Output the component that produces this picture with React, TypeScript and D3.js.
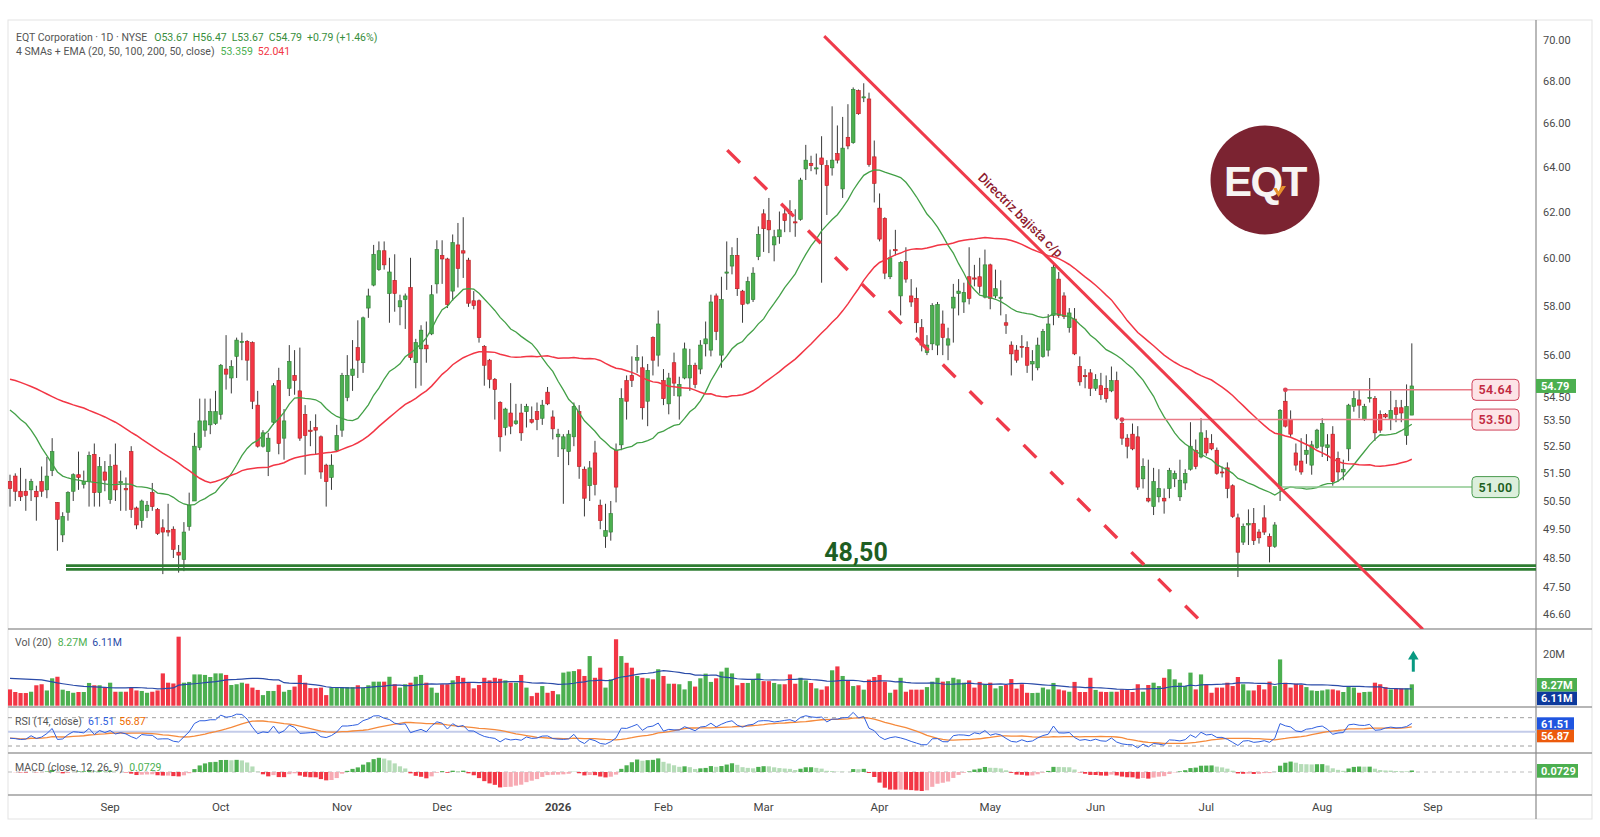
import React, { useRef, useEffect } from 'react';
import * as d3 from 'd3';

const W = 1600;
const H = 837;
const FONT = 'Roboto, "Noto Sans", sans-serif';

// sessions: first one on the chart and the NYSE holidays in between
const FIRST_SESSION = '2025-08-05';
const HOLIDAYS = ['2025-09-01', '2025-11-27', '2025-12-25', '2026-01-01', '2026-01-19',
    '2026-02-16', '2026-04-03', '2026-05-25', '2026-06-19', '2026-07-03'];
const MONTH_NAMES = ['Jan', 'Feb', 'Mar', 'Apr', 'May', 'Jun', 'Jul', 'Aug', 'Sep', 'Oct', 'Nov', 'Dec'];

// daily OHLC
const opens = [
    51.2, 51.4, 50.85, 50.85, 50.9, 50.85, 51.2, 50.9, 51.6, 50.45,
    49.3, 50.1, 50.85, 51.45, 51.1, 51.2, 52.2, 50.8, 51.55, 50.55,
    51.8, 51.15, 50.95, 52.3, 50.25, 49.8, 50.15, 50.8, 50.2, 49.55,
    49.45, 49.5, 48.7, 48.45, 49.6, 50.5, 52.45, 53.1, 53.3, 53.35,
    53.7, 55.45, 55.1, 55.95, 56.5, 56.55, 56.5, 54.05, 52.5, 52.3,
    53.4, 55.0, 52.8, 54.7, 55.2, 54.6, 53.7, 53.1, 53.2, 52.85,
    51.8, 51.35, 52.35, 53.1, 54.35, 55.2, 56.3, 55.7, 57.9, 58.85,
    59.5, 60.3, 58.5, 59.05, 57.95, 58.25, 58.75, 55.7, 56.25, 56.4,
    56.85, 58.9, 60.1, 59.95, 58.6, 60.55, 60.3, 59.9, 58.2, 58.2,
    56.35, 55.8, 55.05, 54.15, 53.2, 53.75, 53.35, 53.75, 53.8, 53.5,
    53.8, 53.55, 54.55, 53.6, 52.85, 52.4, 52.3, 52.85, 53.8, 51.65,
    51.05, 52.25, 50.35, 49.25, 49.4, 52.35, 52.55, 55.0, 55.2, 55.8,
    55.5, 54.2, 56.7, 56.0, 55.0, 54.1, 55.7, 54.4, 55.1, 55.1,
    55.6, 55.45, 56.45, 56.2, 58.4, 56.0, 59.35, 59.65, 60.1, 58.6,
    58.1, 58.25, 60.05, 61.9, 61.6, 60.55, 60.9, 61.9, 62.0, 61.55,
    61.65, 63.9, 64.15, 63.9, 64.4, 64.05, 63.95, 64.6, 63.0, 65.35,
    65.1, 67.55, 67.2, 67.15, 64.45, 62.15, 61.7, 59.2, 60.35, 58.4,
    59.85, 58.4, 58.3, 57.1, 56.1, 56.45, 56.4, 57.25, 56.4, 57.9,
    58.5, 58.15, 59.2, 59.15, 59.2, 58.35, 59.7, 58.4, 58.3, 57.3,
    56.4, 56.2, 56.35, 56.3, 55.65, 55.5, 55.95, 56.2, 57.6, 59.1,
    58.4, 57.1, 57.45, 55.55, 55.2, 55.3, 54.7, 54.8, 54.7, 54.6,
    55.0, 53.35, 52.8, 52.95, 52.85, 51.3, 50.6, 50.3, 50.65, 50.6,
    50.95, 51.3, 50.65, 51.15, 51.65, 52.35, 52.1, 52.8, 52.6, 52.35,
    51.55, 51.7, 51.05, 49.9, 49.05, 49.65, 49.7, 49.4, 49.9, 49.25,
    48.9, 50.95, 54.2, 53.5, 52.25, 51.95, 52.2, 51.8, 52.45, 52.5,
    52.45, 52.95, 52.05, 51.55, 52.4, 54.0, 54.25, 53.5, 54.3, 54.3,
    53.7, 53.7, 53.5, 53.95, 53.95, 52.9, 53.67,
];
const highs = [
    51.45, 51.5, 51.7, 51.3, 51.3, 51.05, 51.75, 52.1, 52.8, 50.45,
    50.1, 50.85, 51.5, 52.3, 51.6, 52.3, 52.6, 52.1, 51.95, 52.2,
    52.6, 51.6, 51.35, 52.5, 50.3, 50.55, 50.5, 51.15, 50.25, 49.85,
    50.4, 49.6, 48.95, 49.75, 50.8, 53.0, 54.3, 54.3, 54.3, 54.6,
    55.65, 56.8, 55.8, 56.7, 56.9, 56.6, 56.55, 54.6, 53.1, 53.0,
    54.9, 55.5, 53.9, 56.4, 56.2, 56.3, 54.05, 53.45, 53.7, 52.9,
    51.85, 52.2, 53.3, 55.3, 56.0, 56.6, 57.4, 57.55, 58.7, 60.55,
    60.7, 60.7, 60.0, 60.15, 58.45, 58.5, 60.0, 56.65, 57.2, 57.35,
    58.85, 60.75, 60.75, 60.0, 61.0, 61.5, 61.75, 60.0, 58.6, 58.25,
    56.4, 55.85, 55.1, 54.2, 53.95, 54.9, 54.1, 54.1, 54.1, 54.0,
    54.15, 54.25, 54.75, 53.85, 53.15, 52.95, 53.1, 54.15, 54.05, 51.75,
    51.95, 52.7, 50.55, 50.4, 50.5, 52.6, 54.7, 55.2, 55.95, 56.4,
    55.95, 55.65, 56.75, 57.8, 55.45, 55.3, 56.1, 55.15, 56.5, 56.25,
    55.7, 56.6, 57.35, 58.45, 58.5, 59.2, 60.7, 60.45, 60.85, 58.65,
    59.2, 59.6, 61.35, 62.1, 62.6, 61.2, 62.0, 62.2, 62.5, 62.1,
    63.5, 65.0, 64.5, 64.6, 65.4, 64.3, 66.8, 65.9, 66.3, 66.9,
    67.7, 67.6, 67.9, 67.45, 65.2, 62.8, 61.75, 60.35, 61.2, 59.85,
    60.45, 59.1, 58.75, 57.45, 56.8, 58.1, 58.15, 57.8, 57.1, 58.9,
    59.1, 58.95, 60.45, 59.7, 60.0, 60.35, 59.75, 59.5, 59.05, 57.65,
    56.55, 56.4, 56.8, 56.55, 56.2, 56.7, 57.05, 57.65, 59.7, 59.4,
    58.55, 57.9, 57.9, 55.95, 55.45, 55.45, 55.25, 55.3, 55.2, 55.55,
    55.35, 53.55, 52.95, 53.35, 53.25, 52.05, 52.0, 51.7, 51.65, 50.95,
    51.7, 51.6, 52.0, 51.65, 53.4, 52.75, 53.55, 53.1, 52.95, 52.45,
    51.75, 51.9, 51.1, 50.05, 49.7, 50.2, 50.25, 49.5, 50.35, 49.35,
    49.75, 53.9, 54.65, 53.85, 52.6, 52.8, 52.95, 52.7, 53.15, 53.55,
    52.95, 53.25, 52.3, 52.0, 54.1, 54.6, 54.65, 54.1, 55.1, 54.4,
    53.85, 53.75, 54.6, 54.25, 54.25, 54.85, 56.47,
];
const lows = [
    50.3, 50.5, 50.5, 50.15, 50.5, 49.8, 50.65, 50.6, 51.4, 48.75,
    49.05, 49.8, 50.5, 50.9, 50.95, 50.3, 50.3, 50.3, 50.85, 50.4,
    50.5, 50.15, 50.15, 49.9, 49.5, 49.55, 49.9, 50.15, 49.3, 47.95,
    49.25, 48.5, 48.0, 48.05, 49.45, 50.5, 52.35, 52.85, 52.95, 53.3,
    53.5, 54.65, 54.5, 55.1, 55.8, 55.0, 53.9, 52.45, 52.45, 51.4,
    53.3, 52.2, 52.0, 54.4, 54.45, 52.7, 51.45, 52.5, 52.2, 51.3,
    50.3, 50.9, 52.3, 52.85, 54.2, 54.6, 55.1, 55.3, 57.5, 58.8,
    59.45, 59.5, 57.3, 57.75, 57.2, 57.05, 55.8, 54.7, 54.8, 55.7,
    56.8, 58.5, 58.9, 57.9, 58.2, 58.75, 59.15, 57.95, 57.85, 56.5,
    54.8, 54.7, 53.5, 52.3, 52.9, 52.95, 53.3, 52.7, 53.2, 53.35,
    53.1, 53.3, 54.05, 52.75, 52.1, 50.4, 51.8, 52.5, 51.3, 49.95,
    50.5, 50.7, 49.5, 48.85, 49.1, 50.45, 52.35, 53.5, 54.75, 55.3,
    53.5, 53.25, 55.2, 55.55, 54.05, 53.7, 54.4, 53.5, 55.05, 54.6,
    54.7, 55.25, 55.95, 55.95, 56.6, 55.5, 58.65, 59.3, 58.4, 57.3,
    58.05, 58.15, 59.9, 60.25, 60.2, 59.85, 60.6, 61.1, 61.1, 60.9,
    61.6, 63.4, 63.8, 63.65, 58.95, 61.85, 63.6, 64.15, 62.6, 64.8,
    65.05, 66.4, 67.0, 64.0, 62.4, 60.7, 59.1, 59.1, 60.1, 57.6,
    58.95, 57.95, 56.9, 56.15, 56.0, 56.2, 56.0, 56.0, 55.8, 56.5,
    57.6, 57.7, 58.05, 58.8, 58.5, 58.3, 57.85, 58.3, 57.6, 56.85,
    55.2, 55.7, 55.9, 55.3, 55.0, 55.4, 55.9, 55.95, 57.2, 57.5,
    57.45, 56.9, 56.0, 54.8, 54.7, 54.4, 54.6, 54.25, 54.15, 54.55,
    53.48, 52.55, 52.05, 52.35, 50.9, 50.95, 50.45, 50.0, 50.45, 50.05,
    50.6, 51.0, 50.5, 50.9, 51.6, 51.65, 52.05, 52.15, 52.35, 51.45,
    51.35, 50.6, 49.9, 47.85, 48.95, 48.95, 48.95, 49.0, 49.3, 48.35,
    48.85, 50.5, 53.2, 52.85, 51.6, 51.45, 51.85, 51.45, 52.4, 52.1,
    51.95, 51.05, 51.2, 51.25, 51.95, 53.8, 53.55, 53.45, 54.15, 52.7,
    53.0, 53.55, 53.1, 53.4, 53.4, 52.55, 53.67,
];
const closes = [
    50.95, 50.85, 50.65, 50.7, 51.2, 50.65, 50.85, 51.4, 52.3, 49.85,
    49.95, 50.8, 51.45, 51.35, 51.2, 52.15, 50.8, 51.75, 51.25, 51.75,
    50.9, 51.2, 50.9, 50.2, 49.65, 50.5, 50.35, 50.3, 49.35, 49.4,
    49.4, 48.8, 48.6, 49.4, 50.35, 52.5, 53.45, 53.45, 53.8, 53.8,
    55.6, 55.25, 55.55, 56.6, 56.55, 55.8, 54.2, 52.5, 53.0, 52.8,
    54.8, 52.6, 53.45, 55.75, 55.0, 52.8, 52.9, 53.05, 53.1, 51.55,
    51.2, 51.8, 52.9, 55.2, 55.2, 55.45, 55.8, 57.5, 58.4, 60.15,
    60.3, 59.7, 59.4, 58.5, 58.2, 58.4, 55.9, 56.5, 57.0, 56.25,
    58.45, 60.35, 59.95, 58.05, 60.65, 59.55, 60.2, 58.1, 58.0, 56.7,
    55.6, 55.05, 54.65, 52.85, 53.9, 53.25, 53.45, 53.0, 54.0, 53.4,
    53.5, 54.05, 54.1, 53.15, 52.95, 52.85, 52.95, 54.0, 51.75, 50.6,
    51.7, 51.1, 49.8, 49.45, 50.05, 51.0, 54.3, 54.2, 55.0, 55.9,
    53.95, 55.4, 55.8, 57.25, 54.3, 55.1, 54.9, 54.85, 56.25, 55.6,
    54.85, 56.4, 56.65, 58.15, 56.95, 58.25, 59.4, 60.1, 58.7, 58.05,
    59.0, 59.35, 61.0, 61.25, 61.2, 60.9, 61.2, 61.6, 61.9, 61.5,
    63.4, 64.3, 64.05, 63.95, 64.1, 63.15, 64.3, 64.3, 64.85, 64.95,
    67.6, 66.45, 67.25, 64.1, 63.25, 60.8, 59.35, 60.0, 60.3, 59.8,
    59.1, 58.15, 57.3, 56.4, 56.4, 58.0, 58.05, 56.7, 56.65, 58.35,
    58.6, 58.55, 58.3, 59.1, 58.8, 59.7, 58.3, 58.7, 58.35, 57.2,
    56.05, 55.8, 56.3, 55.6, 55.75, 56.4, 56.95, 57.25, 59.6, 57.6,
    57.55, 57.7, 56.05, 54.95, 55.15, 54.7, 55.05, 54.45, 54.3, 55.0,
    53.55, 52.8, 52.5, 52.4, 51.0, 51.75, 50.5, 51.2, 50.95, 50.5,
    51.6, 51.5, 51.25, 51.5, 52.5, 51.75, 53.0, 52.25, 52.4, 51.5,
    51.52, 50.95, 49.95, 48.7, 49.6, 49.7, 49.1, 49.2, 49.4, 48.9,
    49.65, 53.85, 53.25, 52.95, 51.8, 51.55, 52.35, 52.55, 53.1, 53.35,
    52.55, 51.2, 51.55, 51.65, 54.05, 54.3, 54.05, 54.0, 54.35, 53.0,
    53.1, 53.6, 53.85, 53.7, 53.75, 54.0, 54.79,
];
// volume in millions
const volumes = [
    6.3, 5.3, 4.9, 4.9, 5.4, 7.9, 8.3, 5.9, 10.6, 11.2,
    6.2, 5.7, 5.0, 5.3, 5.3, 8.8, 7.9, 7.9, 7.0, 8.9,
    5.4, 5.4, 5.4, 7.0, 5.9, 5.7, 5.0, 5.4, 5.9, 12.5,
    8.9, 8.6, 26.7, 8.9, 9.2, 12.1, 12.1, 11.9, 11.1, 12.5,
    12.5, 11.9, 8.0, 8.3, 8.9, 8.5, 7.0, 6.1, 4.1, 5.7,
    5.7, 8.1, 5.4, 6.1, 7.4, 11.9, 8.9, 6.8, 6.8, 7.0,
    4.1, 7.0, 7.2, 7.2, 7.2, 7.2, 7.9, 7.0, 7.9, 9.3,
    9.3, 9.3, 11.2, 8.3, 7.0, 8.3, 8.9, 11.2, 11.9, 8.9,
    7.0, 5.0, 8.3, 8.3, 9.8, 11.5, 10.8, 8.9, 6.7, 8.0,
    10.8, 9.8, 10.8, 10.4, 9.8, 8.9, 8.9, 11.9, 7.0, 3.7,
    5.0, 7.6, 5.0, 5.7, 4.4, 12.8, 13.2, 13.4, 14.1, 11.5,
    19.2, 10.8, 14.7, 7.0, 10.2, 25.7, 19.2, 16.6, 14.7, 11.5,
    10.8, 10.6, 10.2, 14.1, 11.5, 8.5, 8.5, 8.3, 6.3, 9.5,
    7.4, 10.6, 12.4, 9.2, 10.6, 13.2, 14.7, 12.5, 7.9, 8.8,
    8.8, 10.1, 12.5, 9.5, 9.5, 8.8, 8.3, 8.3, 12.1, 8.5,
    10.8, 9.8, 8.8, 6.7, 6.2, 7.5, 13.7, 15.2, 11.5, 9.8,
    7.6, 7.9, 6.2, 10.1, 11.1, 11.9, 9.3, 5.0, 6.2, 10.8,
    5.4, 6.2, 6.2, 6.2, 7.2, 9.3, 10.8, 9.3, 9.5, 10.8,
    10.2, 8.9, 9.8, 7.0, 9.2, 8.3, 8.9, 6.7, 7.6, 8.0,
    10.3, 6.6, 8.3, 5.0, 4.9, 5.0, 7.0, 6.3, 8.8, 6.3,
    5.9, 5.4, 9.2, 5.3, 5.3, 10.8, 6.1, 5.4, 5.3, 5.4,
    5.4, 6.3, 6.3, 5.3, 8.3, 5.4, 8.0, 8.9, 7.6, 10.8,
    14.1, 10.2, 8.9, 7.6, 12.8, 6.3, 12.1, 8.3, 5.0, 7.0,
    7.0, 8.9, 7.6, 11.1, 8.3, 5.9, 5.9, 8.0, 6.3, 9.3,
    7.6, 17.9, 8.9, 7.0, 8.5, 8.0, 7.2, 5.9, 5.7, 5.9,
    6.3, 6.3, 5.9, 5.3, 7.6, 7.0, 5.0, 5.3, 5.4, 8.9,
    8.3, 7.2, 6.3, 6.7, 6.7, 6.7, 8.27,
];

// indicator values already on screen before enough history exists
const SMA20_HEAD = [53.86, 53.7, 53.5, 53.35, 53.1, 52.8, 52.45, 52.15, 51.85, 51.55,
    51.4, 51.33, 51.28, 51.25, 51.22, 51.2, 51.17, 51.15, 51.12];
const SMA50_HEAD = [55.05, 55.0, 54.93, 54.85, 54.77, 54.68, 54.58, 54.48, 54.38, 54.28,
    54.2, 54.13, 54.06, 54.0, 53.94, 53.85, 53.77, 53.69, 53.6, 53.5,
    53.4, 53.28, 53.15, 53.02, 52.9, 52.76, 52.63, 52.5, 52.37, 52.24,
    52.12, 52.0, 51.87, 51.73, 51.6, 51.45, 51.32, 51.22, 51.16, 51.2,
    51.27, 51.35, 51.43, 51.5, 51.6, 51.65, 51.68, 51.7, 51.71];
const VOL_MA_HEAD = [10.6, 10.5, 10.4, 10.3, 10.2, 10.1, 10.0, 9.6, 9.2, 8.8,
    8.5, 8.2, 7.9, 7.7, 7.5, 7.4, 7.3, 7.2, 7.1];
const RSI_START = 41;

const PRICE_TICKS = [70, 68, 66, 64, 62, 60, 58, 56, 54.5, 53.5, 52.5, 51.5, 50.5, 49.5, 48.5, 47.5, 46.6];

// drawings on the chart (session index, price)
const LEVELS = [
    { price: 54.64, from: 242, tone: 'red' },
    { price: 53.5, from: 211, tone: 'red' },
    { price: 51.0, from: 241, tone: 'green' },
];
const SUPPORT_LINES = [48.24, 48.11];
const SUPPORT_LABEL = '48,50';
const TREND_SOLID = [{ i: 154.5, p: 70.21 }, { i: 268.1, p: 46.11 }];
const TREND_DASHED = [{ i: 136.1, p: 64.76 }, { i: 226.8, p: 46.23 }];

const GREEN = '#4caf50';
const RED = '#f23645';

function tradingDays(first: string, count: number): Date[] {
    const out: Date[] = [];
    const d = new Date(first + 'T12:00:00Z');
    while (out.length < count) {
        const dow = d.getUTCDay();
        const iso = d.toISOString().slice(0, 10);
        if (dow !== 0 && dow !== 6 && !HOLIDAYS.includes(iso)) out.push(new Date(d.getTime()));
        d.setUTCDate(d.getUTCDate() + 1);
    }
    return out;
}

const App: React.FC = () => {
    const svgRef = useRef<SVGSVGElement | null>(null);

    useEffect(() => {
        if (!svgRef.current) return;
        const svg = d3.select(svgRef.current);
        svg.selectAll('*').remove();

        const n = closes.length;
        const idx = d3.range(n);
        const dates = tradingDays(FIRST_SESSION, n + 4);

        const P = { left: 8, right: 1536, axisRight: 1592, top: 20, price: 629, vol: 707, rsi: 753, macd: 795, bottom: 819 };

        const x = d3.scaleLinear().domain([0, dates.length - 1]).range([10, 10 + (dates.length - 1) * 5.27]);
        const y = d3.scaleLog().domain([46.6, 70]).range([614.4, 40.3]);
        const vy = d3.scaleLinear().domain([0, 20]).range([705.7, 654]);
        const ry = d3.scaleLinear().domain([30, 70]).range([746, 717.7]);

        // ---------- indicators ----------
        const sma = (vals: number[], len: number, headVals: number[]) =>
            idx.map(i => i < len - 1 ? headVals[i] : d3.mean(vals.slice(i - len + 1, i + 1))!);
        const sma20 = sma(closes, 20, SMA20_HEAD);
        const sma50 = sma(closes, 50, SMA50_HEAD);
        const volMa = sma(volumes, 20, VOL_MA_HEAD);

        const firstMoves = d3.mean(d3.range(1, 15).map(i => Math.abs(closes[i] - closes[i - 1])))!;
        let ag = firstMoves * RSI_START / 100;
        let al = firstMoves * (100 - RSI_START) / 100;
        const rsi: number[] = [RSI_START];
        for (let i = 1; i < n; i++) {
            const ch = closes[i] - closes[i - 1];
            ag = (ag * 13 + Math.max(ch, 0)) / 14;
            al = (al * 13 + Math.max(-ch, 0)) / 14;
            rsi.push(100 - 100 / (1 + ag / al));
        }
        const rsiMa = idx.map(i => d3.mean(rsi.slice(Math.max(0, i - 13), i + 1))!);

        let e12 = closes[0], e26 = closes[0], sig = 0;
        const hist: number[] = [];
        closes.forEach(c => {
            e12 += (2 / 13) * (c - e12);
            e26 += (2 / 27) * (c - e26);
            const m = e12 - e26;
            sig += (2 / 10) * (m - sig);
            hist.push(m - sig);
        });
        const my = d3.scaleLinear().domain([d3.min(hist)!, 0]).range([791, 772]);

        // ---------- frame ----------
        svg.append('rect').attr('width', W).attr('height', H).attr('fill', '#fff');
        const defs = svg.append('defs');
        const clip = (id: string, top: number, bottom: number) =>
            defs.append('clipPath').attr('id', id).append('rect')
                .attr('x', P.left).attr('y', top).attr('width', P.right - P.left).attr('height', bottom - top);
        clip('c-price', P.top, P.price);
        clip('c-vol', P.price, P.vol);
        clip('c-rsi', P.vol, P.rsi);
        clip('c-macd', P.rsi, P.macd);

        svg.append('rect').attr('x', P.left).attr('y', P.top).attr('width', P.axisRight - P.left)
            .attr('height', P.bottom - P.top).attr('fill', 'none').attr('stroke', '#e3e3e3');
        [P.price, P.vol, P.rsi, P.macd].forEach(yy => {
            svg.append('line').attr('x1', P.left).attr('x2', P.axisRight).attr('y1', yy).attr('y2', yy)
                .attr('stroke', '#9e9e9e').attr('stroke-width', 1.6);
        });
        svg.append('line').attr('x1', P.right).attr('x2', P.right).attr('y1', P.top).attr('y2', P.bottom)
            .attr('stroke', '#8a8a8a').attr('stroke-width', 1.2);

        // ---------- price pane ----------
        const gp = svg.append('g').attr('clip-path', 'url(#c-price)');
        const bw = 3.6;
        gp.selectAll('line.wick').data(idx).join('line')
            .attr('class', 'wick')
            .attr('x1', i => x(i)).attr('x2', i => x(i))
            .attr('y1', i => y(highs[i])).attr('y2', i => y(lows[i]))
            .attr('stroke', '#3a3a3a').attr('stroke-width', 1);
        gp.selectAll('rect.body').data(idx).join('rect')
            .attr('class', 'body')
            .attr('x', i => x(i) - bw / 2).attr('width', bw)
            .attr('y', i => y(Math.max(opens[i], closes[i])))
            .attr('height', i => Math.max(1, Math.abs(y(opens[i]) - y(closes[i]))))
            .attr('fill', i => closes[i] >= opens[i] ? GREEN : RED)
            .attr('stroke', i => closes[i] >= opens[i] ? '#2e7d32' : '#b71c1c')
            .attr('stroke-width', 0.6);

        const maLine = (vals: number[]) => d3.line<number>().x(i => x(i)).y(i => y(vals[i]))(idx);
        gp.append('path').attr('d', maLine(sma20)).attr('fill', 'none').attr('stroke', '#43a047').attr('stroke-width', 1.3);
        gp.append('path').attr('d', maLine(sma50)).attr('fill', 'none').attr('stroke', RED).attr('stroke-width', 1.5);

        // support 48,50
        SUPPORT_LINES.forEach(p => {
            gp.append('line').attr('x1', 66).attr('x2', P.right).attr('y1', y(p)).attr('y2', y(p))
                .attr('stroke', '#2e7d32').attr('stroke-width', 2.6);
        });
        gp.append('text').attr('x', 856).attr('y', y(SUPPORT_LINES[0]) - 5).attr('text-anchor', 'middle')
            .attr('font-family', FONT).attr('font-size', 25).attr('font-weight', 700).attr('fill', '#1e5e22')
            .text(SUPPORT_LABEL);

        // level lines with boxes
        LEVELS.forEach(l => {
            const red = l.tone === 'red';
            gp.append('line').attr('x1', x(l.from)).attr('x2', 1472).attr('y1', y(l.price)).attr('y2', y(l.price))
                .attr('stroke', red ? '#ea7a86' : '#8cc98f').attr('stroke-width', 1.5);
            if (red) gp.append('circle').attr('cx', x(l.from)).attr('cy', y(l.price)).attr('r', 2.4).attr('fill', '#e04255');
            gp.append('rect').attr('x', 1472).attr('y', y(l.price) - 10.5).attr('width', 47).attr('height', 21).attr('rx', 4)
                .attr('fill', red ? '#fde4e7' : '#dcefdc').attr('stroke', red ? '#d0435a' : '#4a9a4f').attr('stroke-width', 1);
            gp.append('text').attr('x', 1495.5).attr('y', y(l.price) + 4.5).attr('text-anchor', 'middle')
                .attr('font-family', FONT).attr('font-size', 12.5).attr('font-weight', 600).attr('letter-spacing', 0.4)
                .attr('fill', red ? '#c2293f' : '#1b5e20').text(l.price.toFixed(2));
        });

        // trend lines
        const pt = (a: { i: number; p: number }) => [x(a.i), y(a.p)];
        const [s0, s1] = TREND_SOLID.map(pt);
        gp.append('line').attr('x1', s0[0]).attr('y1', s0[1]).attr('x2', s1[0]).attr('y2', s1[1])
            .attr('stroke', '#ef3b4b').attr('stroke-width', 3);
        const [d0, d1] = TREND_DASHED.map(pt);
        gp.append('line').attr('x1', d0[0]).attr('y1', d0[1]).attr('x2', d1[0]).attr('y2', d1[1])
            .attr('stroke', '#ef3b4b').attr('stroke-width', 3.4).attr('stroke-dasharray', '18 20');
        const ang = Math.atan2(s1[1] - s0[1], s1[0] - s0[0]);
        const t = 0.315;
        const tx = s0[0] + (s1[0] - s0[0]) * t + Math.sin(ang) * 10;
        const ty = s0[1] + (s1[1] - s0[1]) * t - Math.cos(ang) * 10;
        gp.append('text').attr('transform', `translate(${tx},${ty}) rotate(${ang * 180 / Math.PI})`)
            .attr('text-anchor', 'middle').attr('dominant-baseline', 'middle')
            .attr('font-family', FONT).attr('font-size', 13).attr('font-weight', 500)
            .attr('fill', '#8e1b2e').text('Directriz bajista c/p');

        // EQT logo
        const logo = svg.append('g').attr('transform', 'translate(1265,180)');
        logo.append('circle').attr('r', 54.5).attr('fill', '#7b2331');
        logo.append('text').attr('y', 16).attr('text-anchor', 'middle').attr('font-family', '"Liberation Sans", Arial, sans-serif')
            .attr('font-size', 42).attr('font-weight', 700).attr('letter-spacing', -1.5).attr('fill', '#f7f4f2').text('EQT');
        logo.append('path').attr('d', 'M8,8 L13.5,17 L21,6 L17,6 L13.5,11.5 L11.5,8 Z').attr('fill', '#e8922a');

        // price axis
        const ga = svg.append('g').attr('font-family', FONT).attr('font-size', 11);
        const last = closes[n - 1];
        PRICE_TICKS.forEach(v => {
            // the tick under the last-price tag peeks out just below it
            const yy = Math.abs(y(v) - y(last)) < 12 ? y(last) + 15 : y(v) + 4;
            ga.append('text').attr('x', 1543).attr('y', yy).attr('fill', '#4b4b4b').text(v.toFixed(2));
        });
        ga.append('rect').attr('x', P.right).attr('y', y(last) - 7).attr('width', 40).attr('height', 14).attr('fill', GREEN);
        ga.append('text').attr('x', P.right + 5).attr('y', y(last) + 4).attr('fill', '#fff').attr('font-weight', 700).text(last.toFixed(2));

        // legend
        const chg = last - closes[n - 2];
        const head = svg.append('text').attr('x', 16).attr('y', 41).attr('font-family', FONT).attr('font-size', 10.5);
        head.append('tspan').attr('fill', '#555').text('EQT Corporation · 1D · NYSE');
        const ohlcGreen = '#388e3c';
        [`O${opens[n - 1].toFixed(2)}`, `H${highs[n - 1].toFixed(2)}`, `L${lows[n - 1].toFixed(2)}`, `C${last.toFixed(2)}`,
            `+${chg.toFixed(2)} (+${(chg / closes[n - 2] * 100).toFixed(2)}%)`].forEach((s, k) => {
            head.append('tspan').attr('dx', k === 0 ? 7 : 5).attr('fill', ohlcGreen).text(s);
        });
        const leg2 = svg.append('text').attr('x', 16).attr('y', 54.5).attr('font-family', FONT).attr('font-size', 10.5);
        leg2.append('tspan').attr('fill', '#555').text('4 SMAs + EMA (20, 50, 100, 200, 50, close)');
        leg2.append('tspan').attr('dx', 6).attr('fill', GREEN).text('53.359');
        leg2.append('tspan').attr('dx', 5).attr('fill', RED).text('52.041');

        // ---------- volume ----------
        const gv = svg.append('g').attr('clip-path', 'url(#c-vol)');
        gv.selectAll('rect').data(idx).join('rect')
            .attr('x', i => x(i) - 2.1).attr('width', 4.2)
            .attr('y', i => vy(volumes[i])).attr('height', i => vy(0) - vy(volumes[i]))
            .attr('fill', i => closes[i] >= opens[i] ? GREEN : RED);
        gv.append('path').attr('d', d3.line<number>().x(i => x(i)).y(i => vy(volMa[i]))(idx))
            .attr('fill', 'none').attr('stroke', '#2a4ba8').attr('stroke-width', 1.2);
        // arrow
        gv.append('line').attr('x1', 1413.3).attr('x2', 1413.3).attr('y1', 671.7).attr('y2', 658)
            .attr('stroke', '#089981').attr('stroke-width', 3);
        gv.append('path').attr('d', 'M1408,659.5 L1418.6,659.5 L1413.3,650.7 Z').attr('fill', '#089981');

        const vt = svg.append('text').attr('x', 15).attr('y', 645.5).attr('font-family', FONT).attr('font-size', 10.5);
        vt.append('tspan').attr('fill', '#555').text('Vol (20)');
        vt.append('tspan').attr('dx', 6).attr('fill', GREEN).text('8.27M');
        vt.append('tspan').attr('dx', 5).attr('fill', '#2a4ba8').text('6.11M');
        ga.append('text').attr('x', 1543).attr('y', vy(20) + 4).attr('fill', '#4b4b4b').text('20M');

        const axisBox = (yTop: number, h: number, w: number, fill: string, label: string) => {
            ga.append('rect').attr('x', P.right + 1).attr('y', yTop).attr('width', w).attr('height', h).attr('fill', fill);
            ga.append('text').attr('x', P.right + 5).attr('y', yTop + h / 2 + 4).attr('fill', '#fff')
                .attr('font-weight', 700).text(label);
        };
        axisBox(678, 13.7, 40, GREEN, '8.27M');
        axisBox(691.7, 13.5, 40, '#0d3a9c', '6.11M');

        // ---------- RSI ----------
        const gr = svg.append('g').attr('clip-path', 'url(#c-rsi)');
        [70, 30].forEach(v => gr.append('line').attr('x1', P.left).attr('x2', P.right).attr('y1', ry(v)).attr('y2', ry(v))
            .attr('stroke', '#9e9e9e').attr('stroke-dasharray', '4 4'));
        gr.append('line').attr('x1', P.left).attr('x2', P.right).attr('y1', ry(50)).attr('y2', ry(50))
            .attr('stroke', '#c3cbe9').attr('stroke-width', 2);
        gr.append('path').attr('d', d3.line<number>().x(i => x(i)).y(i => ry(rsiMa[i]))(idx))
            .attr('fill', 'none').attr('stroke', '#f58a3c').attr('stroke-width', 1.3);
        gr.append('path').attr('d', d3.line<number>().x(i => x(i)).y(i => ry(rsi[i]))(idx))
            .attr('fill', 'none').attr('stroke', '#2f5fe0').attr('stroke-width', 1);
        const rt = svg.append('text').attr('x', 15).attr('y', 725).attr('font-family', FONT).attr('font-size', 10.5);
        rt.append('tspan').attr('fill', '#555').text('RSI (14, close)');
        rt.append('tspan').attr('dx', 6).attr('fill', '#2f5fe0').text('61.51');
        rt.append('tspan').attr('dx', 5).attr('fill', '#ef6c00').text('56.87');
        axisBox(717.3, 12.5, 37, '#1f55e0', '61.51');
        axisBox(729.8, 12.5, 37, '#ec5a0c', '56.87');

        // ---------- MACD ----------
        const gm = svg.append('g').attr('clip-path', 'url(#c-macd)');
        gm.append('line').attr('x1', P.left).attr('x2', P.right).attr('y1', my(0)).attr('y2', my(0))
            .attr('stroke', '#bdbdbd').attr('stroke-dasharray', '4 4');
        gm.selectAll('rect').data(idx).join('rect')
            .attr('x', i => x(i) - 2.1).attr('width', 4.2)
            .attr('y', i => Math.min(my(0), my(hist[i])))
            .attr('height', i => Math.abs(my(hist[i]) - my(0)))
            .attr('fill', i => {
                const h = hist[i], prev = i > 0 ? hist[i - 1] : h;
                if (h >= 0) return h >= prev ? GREEN : '#b5dcb7';
                return h < prev ? RED : '#f7aab3';
            });
        const mt = svg.append('text').attr('x', 15).attr('y', 770.5).attr('font-family', FONT).attr('font-size', 10.5);
        mt.append('tspan').attr('fill', '#555').text('MACD (close, 12, 26, 9)');
        mt.append('tspan').attr('dx', 6).attr('fill', GREEN).text('0.0729');
        axisBox(764, 13.7, 41, GREEN, '0.0729');

        // ---------- time axis ----------
        const gt = svg.append('g').attr('font-family', FONT).attr('font-size', 11.5).attr('text-anchor', 'middle');
        dates.forEach((d, i) => {
            if (i === 0 || d.getUTCMonth() === dates[i - 1].getUTCMonth()) return;
            const m = d.getUTCMonth();
            gt.append('text').attr('x', x(i)).attr('y', 811).attr('fill', '#444')
                .attr('font-weight', m === 0 ? 700 : 400)
                .text(m === 0 ? String(d.getUTCFullYear()) : MONTH_NAMES[m]);
        });
    }, []);

    return (
        <div style={{ position: 'fixed', left: 0, top: 0, width: W, height: H, background: '#fff' }}>
            <svg ref={svgRef} width={W} height={H} style={{ display: 'block' }} />
        </div>
    );
};

export default App;
